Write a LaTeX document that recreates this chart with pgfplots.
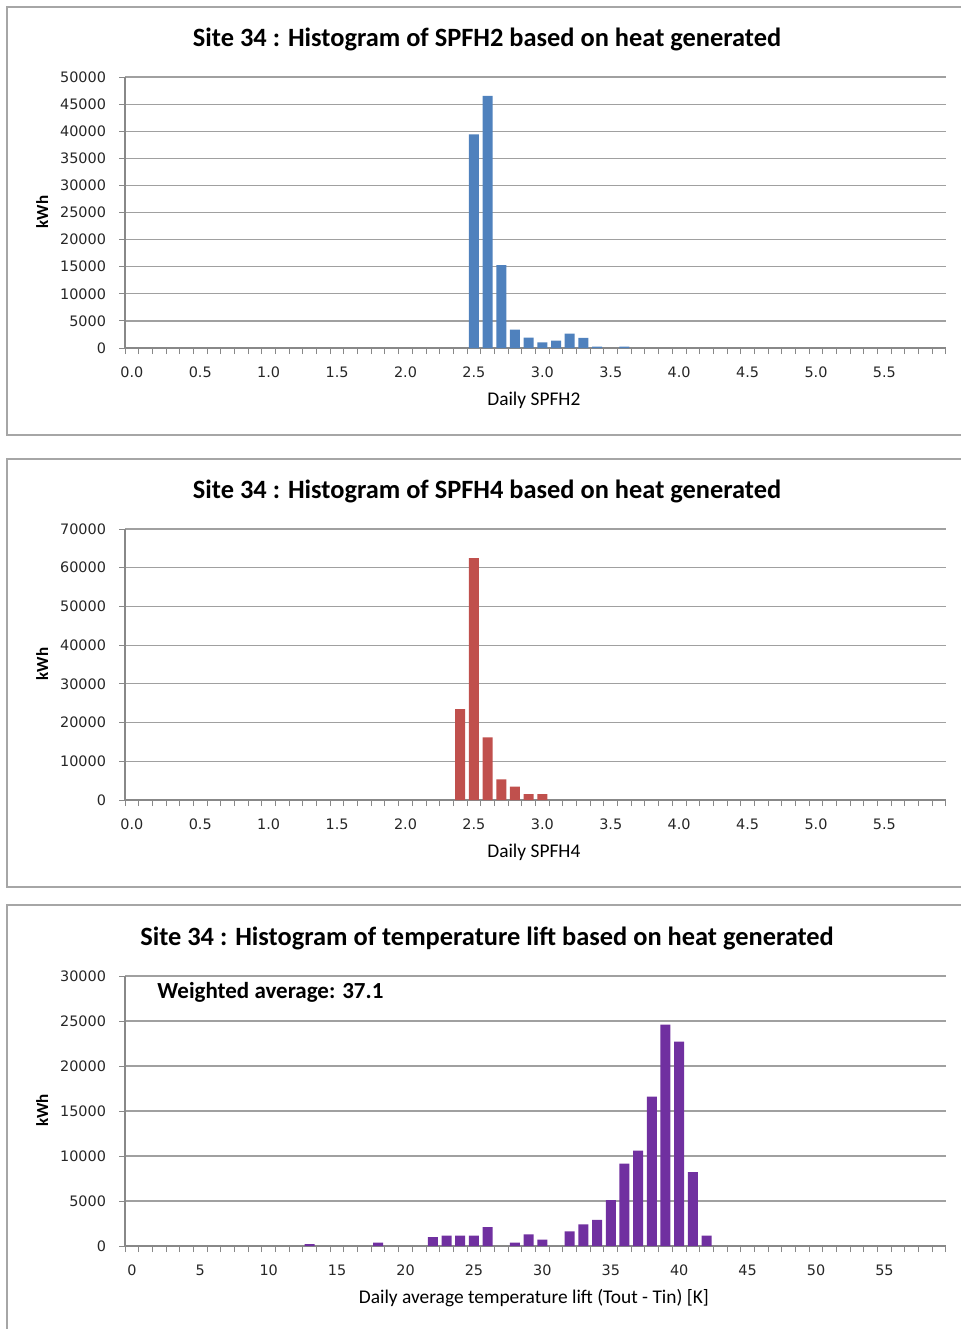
\documentclass[border=0pt]{standalone}
\usepackage{pgfplots}
\pgfplotsset{compat=1.18}
\usepackage{fontspec}
\setmainfont{Carlito}
\newfontfamily\tickfont{DejaVu Sans}

\definecolor{barblue}{HTML}{4F81BD}
\definecolor{barred}{HTML}{C0504D}
\definecolor{barpurple}{HTML}{7030A0}
\definecolor{gridgray}{HTML}{A0A0A0}
\definecolor{axisgray}{HTML}{888888}
\definecolor{framegray}{HTML}{A6A6A6}
\definecolor{textdark}{HTML}{262626}

\def\u{0.5pt}

\pgfplotsset{
  panel/.style={
    scale only axis, width=410.5pt, height=135.5pt, anchor=south west,
    xmin=-0.5, xmax=59.5, ymin=0,
    axis x line*=bottom, axis y line*=left,
    axis line style={draw=axisgray, line width=0.6pt},
    ybar, bar width=5pt,
    xtick={0,5,...,55},
    x tick style={draw=none},
    minor xtick={-0.5,0.5,...,59.5},
    minor x tick style={draw=axisgray, line width=0.5pt},
    tick align=outside, major tick length=3pt, minor tick length=3pt,
    y tick style={draw=axisgray, line width=0.5pt},
    ymajorgrids, grid style={draw=gridgray, line width=0.6pt},
    scaled y ticks=false,
    tick label style={font=\tickfont\fontsize{7.2}{8}\selectfont, text=textdark},
    yticklabel style={xshift=-3pt},
    xticklabel style={yshift=-3pt},
    /pgf/number format/.cd, fixed, set thousands separator={}, assume math mode=true,
    /pgfplots/.cd,
    title style={at={(axis description cs:0.441,1.144)}, anchor=center, yshift=-6.5pt,
      font=\bfseries\fontsize{13.2}{15}\selectfont},
    xlabel style={at={(axis description cs:0.498,-0.192)}, anchor=center,
      font=\fontsize{9.7}{11}\selectfont},
    ylabel style={at={(axis description cs:-0.101,0.502)}, anchor=center,
      font=\bfseries\fontsize{8.5}{9}\selectfont},
  },
}

\begin{document}
\begin{tikzpicture}
\useasboundingbox (0,0) rectangle (961*\u,-1329*\u);
\clip (0,0) rectangle (961*\u,-1329*\u);

% panel frames
\draw[framegray, line width=1pt] (7*\u,-7*\u) rectangle (975*\u,-435*\u);
\draw[framegray, line width=1pt] (7*\u,-459*\u) rectangle (975*\u,-887*\u);
\draw[framegray, line width=1pt] (7*\u,-905*\u) rectangle (975*\u,-1345*\u);

% SPFH2
\begin{axis}[panel, at={(125*\u,-348*\u)},
    ymax=50000, ytick={0,5000,...,50000},
    xticklabels={0.0,0.5,1.0,1.5,2.0,2.5,3.0,3.5,4.0,4.5,5.0,5.5},
    title={Site 34 : Histogram of SPFH2 based on heat generated},
    xlabel={Daily SPFH2}, ylabel={kWh}]
\addplot[fill=barblue, draw=none] coordinates {
  (25,39400)(26,46500)(27,15300)(28,3400)(29,1900)(30,1050)
  (31,1350)(32,2650)(33,1850)(34,250)(36,250)};
\end{axis}

% SPFH4
\begin{axis}[panel, at={(125*\u,-800*\u)},
    ymax=70000, ytick={0,10000,...,70000},
    xticklabels={0.0,0.5,1.0,1.5,2.0,2.5,3.0,3.5,4.0,4.5,5.0,5.5},
    title={Site 34 : Histogram of SPFH4 based on heat generated},
    xlabel={Daily SPFH4}, ylabel={kWh}]
\addplot[fill=barred, draw=none] coordinates {
  (24,23500)(25,62500)(26,16200)(27,5300)(28,3450)(29,1550)(30,1550)};
\end{axis}

% temperature lift
\begin{axis}[panel, at={(125*\u,-1246*\u)}, height=135pt,
    ymax=30000, ytick={0,5000,...,30000},
    xticklabels={0,5,10,15,20,25,30,35,40,45,50,55},
    title={Site 34 : Histogram of temperature lift based on heat generated},
    xlabel={Daily average temperature lift (Tout - Tin) [K]}, ylabel={kWh}]
\addplot[fill=barpurple, draw=none] coordinates {
  (13,200)(18,370)(22,1000)(23,1150)(24,1150)(25,1150)(26,2100)
  (28,370)(29,1300)(30,700)(32,1630)(33,2400)(34,2900)(35,5100)
  (36,9150)(37,10600)(38,16600)(39,24600)(40,22700)(41,8200)(42,1150)};
\node[anchor=west, inner sep=0pt, font=\bfseries\fontsize{11.5}{13}\selectfont]
  at (rel axis cs:0.039,0.941) {Weighted average: 37.1};
\end{axis}
\end{tikzpicture}
\end{document}
